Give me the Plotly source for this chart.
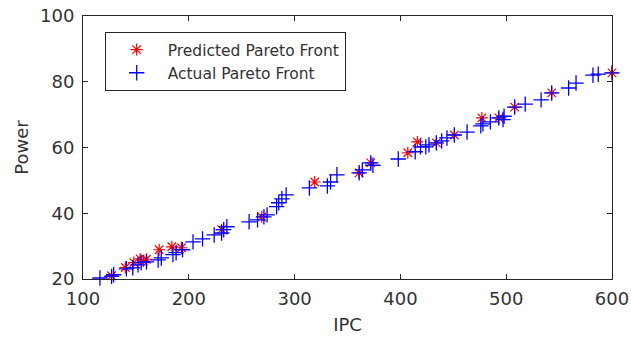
import plotly.graph_objects as go

pred_ipc = [127, 140, 148, 154, 157, 160, 172, 184, 193, 231, 269, 319, 361, 372, 407, 416, 434, 451, 477, 493, 508, 543, 600]
pred_power = [21.0, 23.5, 25.0, 26.1, 25.5, 26.0, 28.9, 29.8, 29.5, 35.0, 38.9, 49.5, 52.3, 55.3, 58.4, 61.7, 61.4, 63.8, 69.0, 69.0, 72.3, 76.6, 82.7]

act_ipc = [116, 127, 129, 141, 147, 152, 155, 160, 171, 174, 185, 188, 194, 204, 213, 224, 231, 233, 236,
           257, 265, 271, 274, 283, 285, 288, 292, 314, 331, 334, 340, 361, 364, 372, 374, 398, 414, 419,
           424, 427, 434, 439, 444, 451, 463, 476, 478, 485, 493, 497, 498, 508, 518, 533, 543, 559, 566,
           582, 587, 600]
act_power = [20.3, 20.8, 21.3, 23.1, 23.4, 24.3, 25.0, 25.2, 25.8, 26.4, 27.4, 28.0, 28.9, 31.3, 32.2, 33.4, 34.0, 35.0, 35.9,
             37.4, 38.0, 38.9, 39.5, 42.0, 43.2, 44.4, 45.6, 47.7, 48.3, 49.5, 51.7, 52.3, 53.2, 55.3, 54.6, 56.5, 58.7, 60.2,
             60.2, 60.8, 61.4, 62.0, 62.9, 63.8, 64.7, 66.6, 67.2, 67.8, 69.0, 68.5, 69.5, 72.3, 73.2, 74.5, 76.6, 78.1, 79.6,
             82.0, 82.3, 82.7]

x_ticks = [100, 200, 300, 400, 500, 600]
y_ticks = [20, 40, 60, 80, 100]

FONT = "DejaVu Sans, Lucida Grande, sans-serif"
TXT = "#333333"

fig = go.Figure()
fig.add_trace(go.Scatter(
    x=pred_ipc, y=pred_power, mode="markers", name="Predicted Pareto Front",
    marker=dict(symbol="asterisk-open", size=10, color="red", line=dict(color="red", width=1.2)),
    cliponaxis=False,
))
fig.add_trace(go.Scatter(
    x=act_ipc, y=act_power, mode="markers", name="Actual Pareto Front",
    marker=dict(symbol="cross-thin-open", size=11, color="#0000ff", line=dict(color="#0000ff", width=1.3)),
    cliponaxis=False,
))

axis_common = dict(
    showgrid=False, zeroline=False, showline=True, linecolor="#262626", linewidth=1,
    mirror="ticks", ticks="inside", ticklen=5, tickcolor="#262626", automargin=False,
    tickfont=dict(family=FONT, size=18, color=TXT),
)

fig.update_layout(
    width=631, height=339,
    margin=dict(l=83, r=19, t=16, b=60),
    paper_bgcolor="white", plot_bgcolor="white",
    xaxis=dict(range=[100, 600], tickvals=x_ticks, ticklabelstandoff=3,
               title=dict(text="IPC", font=dict(family=FONT, size=18, color=TXT), standoff=10),
               **axis_common),
    yaxis=dict(range=[20, 100], tickvals=y_ticks, ticklabelstandoff=4,
               title=dict(text="Power", font=dict(family=FONT, size=18, color=TXT), standoff=6),
               **axis_common),
    legend=dict(x=0.041, y=0.939, xanchor="left", yanchor="top",
                bgcolor="white", bordercolor="#262626", borderwidth=1,
                font=dict(family=FONT, size=15.5, color=TXT),
                itemwidth=52, tracegroupgap=0),
    showlegend=True,
)

fig.write_html("out.html")
